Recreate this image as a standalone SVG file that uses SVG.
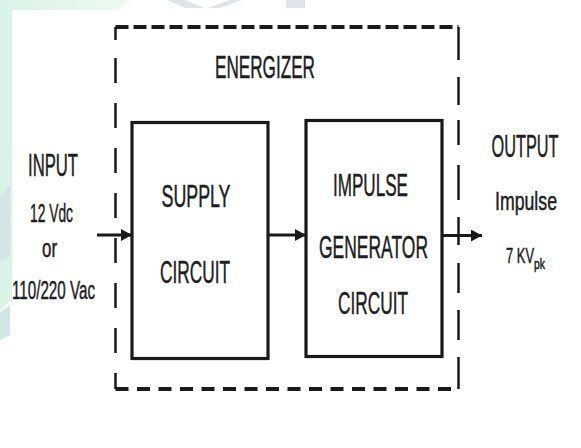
<svg xmlns="http://www.w3.org/2000/svg" width="581" height="448" viewBox="0 0 581 448">
<style>
.t{font-family:"Liberation Sans",Arial,sans-serif;fill:#1e1e1e;stroke:#1e1e1e;stroke-width:0.5;text-anchor:middle;}
.big{font-size:31px;}
.sm{font-size:26px;}
.box{fill:none;stroke:#1a1a1a;stroke-width:3.2;}
.conn{stroke:#1a1a1a;stroke-width:3;fill:none;}
.fr{fill:none;stroke:#1a1a1a;}
</style>
<defs>
<marker id="ah" markerWidth="11" markerHeight="12" refX="11" refY="6" orient="auto" markerUnits="userSpaceOnUse">
<path d="M0,0 L11,6 L0,12 z" fill="#1a1a1a"/>
</marker>
<linearGradient id="mint" x1="0" y1="0" x2="1" y2="0">
<stop offset="0" stop-color="#d9f3e6"/>
<stop offset="1" stop-color="#eefaf3"/>
</linearGradient>
</defs>
<rect width="581" height="448" fill="#ffffff"/>
<g id="watermark">
<path d="M0,0 H130 L118,10 H12 V300 L0,310 Z" fill="url(#mint)"/>
<path d="M0,195 L10,185 V255 L0,262 Z" fill="#d3e6e6"/>
<path d="M0,312 L10,305 V335 L0,340 Z" fill="#d3e6e6"/>
<path d="M167,0 H185 L205,8 L185,8 Z" fill="#dfe4ea"/>
<path d="M208,8 L230,0 H242 L220,8 Z" fill="#dfe4ea"/>
<rect x="286" y="0" width="19" height="8" fill="#dfe4ea"/>
</g>
<g id="energizer">
<path class="fr" stroke-width="4" stroke-dasharray="13 5" d="M115.5,27 H458.5"/>
<path class="fr" stroke-width="4" stroke-dasharray="13 8.5" d="M115.5,389 H459"/>
<path class="fr" stroke-width="2.5" d="M115.5,27 V40 M115.5,58 V83 M115.5,103 V128 M115.5,148 V173 M115.5,193 V218 M115.5,238 V263 M115.5,283 V308 M115.5,328 V353 M115.5,373 V389"/>
<path class="fr" stroke-width="2.5" d="M458.5,27 V60 M458.5,77 V105 M458.5,120 V145 M458.5,165 V200 M458.5,217 V245 M458.5,263 V293 M458.5,310 V340 M458.5,357 V389"/>
<text class="t big" x="265" y="78" textLength="100" lengthAdjust="spacingAndGlyphs">ENERGIZER</text>
</g>
<g id="supply">
<rect class="box" x="132" y="122.5" width="136" height="236"/>
<text class="t big" x="196" y="207" textLength="69" lengthAdjust="spacingAndGlyphs">SUPPLY</text>
<text class="t big" x="195" y="283" textLength="70" lengthAdjust="spacingAndGlyphs">CIRCUIT</text>
</g>
<g id="generator">
<rect class="box" x="306" y="120.5" width="136" height="236"/>
<text class="t big" x="370.5" y="196" textLength="75" lengthAdjust="spacingAndGlyphs">IMPULSE</text>
<text class="t big" x="373.5" y="258" textLength="109" lengthAdjust="spacingAndGlyphs">GENERATOR</text>
<text class="t big" x="373" y="314" textLength="70" lengthAdjust="spacingAndGlyphs">CIRCUIT</text>
</g>
<g id="input">
<text class="t big" x="53" y="176" textLength="50" lengthAdjust="spacingAndGlyphs">INPUT</text>
<text class="t sm" x="51.5" y="222" textLength="43" lengthAdjust="spacingAndGlyphs">12 Vdc</text>
<text class="t sm" x="49.5" y="257" textLength="15" lengthAdjust="spacingAndGlyphs">or</text>
<text class="t sm" x="53.5" y="299" textLength="83" lengthAdjust="spacingAndGlyphs">110/220 Vac</text>
</g>
<g id="output">
<text class="t big" x="525" y="157" textLength="67" lengthAdjust="spacingAndGlyphs">OUTPUT</text>
<text class="t sm" x="526" y="210" textLength="62" lengthAdjust="spacingAndGlyphs">Impulse</text>
<text class="t" style="font-size:22px;text-anchor:start" x="506" y="263"><tspan textLength="28" lengthAdjust="spacingAndGlyphs">7 KV</tspan><tspan style="font-size:14px" dy="6" textLength="11" lengthAdjust="spacingAndGlyphs">pk</tspan></text>
</g>
<g id="connectors">
<line class="conn" x1="97" y1="235" x2="132" y2="235" marker-end="url(#ah)"/>
<line class="conn" x1="268" y1="235" x2="306" y2="235" marker-end="url(#ah)"/>
<line class="conn" x1="442" y1="235.5" x2="482" y2="235.5" marker-end="url(#ah)"/>
</g>
</svg>
